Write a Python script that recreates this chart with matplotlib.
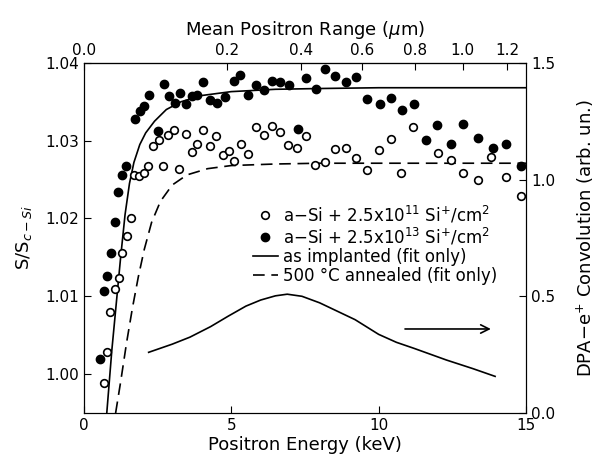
import numpy as np
import matplotlib
matplotlib.use("Agg")
import matplotlib.pyplot as plt

plt.rcParams['font.family'] = ['DejaVu Sans']
plt.rcParams['mathtext.fontset'] = 'dejavusans'

# open circles: a-Si + 2.5x10^11
e_low = [0.69, 0.80, 0.90, 1.05, 1.19, 1.31, 1.46, 1.59, 1.72, 1.87, 2.03, 2.19, 2.36, 2.54,
         2.69, 2.87, 3.07, 3.24, 3.45, 3.66, 3.85, 4.05, 4.28, 4.49, 4.73, 4.93, 5.10, 5.32,
         5.57, 5.84, 6.10, 6.37, 6.64, 6.94, 7.23, 7.52, 7.85, 8.18, 8.53, 8.89, 9.24, 9.60,
         10.02, 10.41, 10.77, 11.16, 12.01, 12.44, 12.87, 13.36, 13.80, 14.32, 14.82]
s_low = [0.9988, 1.0028, 1.0080, 1.0109, 1.0124, 1.0155, 1.0178, 1.0201, 1.0256, 1.0255,
         1.0259, 1.0267, 1.0293, 1.0301, 1.0268, 1.0307, 1.0314, 1.0263, 1.0308, 1.0285,
         1.0296, 1.0314, 1.0293, 1.0306, 1.0282, 1.0287, 1.0274, 1.0296, 1.0283, 1.0317,
         1.0307, 1.0319, 1.0311, 1.0294, 1.0290, 1.0306, 1.0269, 1.0272, 1.0289, 1.0290,
         1.0278, 1.0262, 1.0288, 1.0302, 1.0258, 1.0318, 1.0284, 1.0275, 1.0258, 1.0249,
         1.0279, 1.0253, 1.0229]

# filled circles: a-Si + 2.5x10^13
e_high = [0.56, 0.69, 0.80, 0.91, 1.05, 1.16, 1.29, 1.43, 1.73, 1.91, 2.05, 2.21, 2.52, 2.71,
          2.89, 3.09, 3.26, 3.46, 3.67, 3.85, 4.06, 4.29, 4.51, 4.80, 5.08, 5.31, 5.57, 5.84,
          6.12, 6.37, 6.64, 6.96, 7.25, 7.53, 7.88, 8.18, 8.53, 8.89, 9.24, 9.62, 10.05, 10.41,
          10.79, 11.19, 11.60, 11.99, 12.46, 12.87, 13.38, 13.88, 14.32, 14.82]
s_high = [1.0020, 1.0107, 1.0126, 1.0155, 1.0195, 1.0234, 1.0256, 1.0267, 1.0328, 1.0338,
          1.0345, 1.0359, 1.0312, 1.0373, 1.0358, 1.0349, 1.0361, 1.0347, 1.0358, 1.0359,
          1.0375, 1.0352, 1.0348, 1.0356, 1.0377, 1.0385, 1.0359, 1.0371, 1.0365, 1.0377,
          1.0375, 1.0372, 1.0315, 1.0381, 1.0366, 1.0392, 1.0383, 1.0375, 1.0382, 1.0353,
          1.0347, 1.0355, 1.0340, 1.0347, 1.0301, 1.0320, 1.0296, 1.0322, 1.0304, 1.0290,
          1.0296, 1.0268]

# fits
e_fit_impl = [0.78, 0.95, 1.10, 1.25, 1.40, 1.55, 1.70, 1.90, 2.10, 2.40, 2.80, 3.30, 4.0, 5.0,
              6.5, 8.0, 10.0, 12.0, 15.0]
s_fit_impl = [0.995, 1.0030, 1.0090, 1.0150, 1.0205, 1.0245, 1.0272, 1.0295, 1.0310, 1.0325,
              1.0340, 1.0350, 1.0358, 1.0363, 1.0366, 1.0367, 1.0368, 1.0368, 1.0368]
e_fit_ann = [1.08, 1.25, 1.45, 1.65, 1.85, 2.05, 2.30, 2.60, 3.0, 3.5, 4.2, 5.0, 6.5, 8.0, 10.0,
             12.0, 15.0]
s_fit_ann = [0.995, 0.9990, 1.0040, 1.0085, 1.0125, 1.0160, 1.0195, 1.0222, 1.0243, 1.0256,
             1.0264, 1.0268, 1.0270, 1.0271, 1.0271, 1.0271, 1.0271]

# DPA-e+ convolution (right axis)
e_dpa = [2.2, 3.0, 3.6, 4.3, 4.9, 5.5, 6.0, 6.5, 6.9, 7.4, 8.0, 8.7, 9.2, 10.0, 10.6, 11.2,
         12.3, 13.2, 13.95]
v_dpa = [0.26, 0.295, 0.325, 0.37, 0.415, 0.458, 0.484, 0.502, 0.509, 0.500, 0.472, 0.43,
         0.40, 0.337, 0.303, 0.277, 0.227, 0.19, 0.157]

range_ticks = [0.0, 0.2, 0.4, 0.6, 0.8, 1.0, 1.2]

fig = plt.figure(figsize=(6.16, 4.62), dpi=100)
ax = fig.add_axes([0.136, 0.106, 0.718, 0.758])

ax.plot(e_fit_impl, s_fit_impl, color='black', lw=1.2, label='as implanted (fit only)')
ax.plot(e_fit_ann, s_fit_ann, color='black', lw=1.2, linestyle=(0, (7, 4)),
        label='500 \u00b0C annealed (fit only)')
ax.plot(e_low, s_low, 'o', ms=5.5, mfc='white', mec='black', mew=1.2,
        label='a\u2212Si + 2.5x10$^{11}$ Si$^{+}$/cm$^{2}$')
ax.plot(e_high, s_high, 'o', ms=6, mfc='black', mec='black',
        label='a\u2212Si + 2.5x10$^{13}$ Si$^{+}$/cm$^{2}$')

ax.set_xlim(0, 15)
ax.set_ylim(0.995, 1.04)
ax.set_xticks([0, 5, 10, 15])
ax.set_yticks([1.00, 1.01, 1.02, 1.03, 1.04])
ax.set_yticklabels(['1.00', '1.01', '1.02', '1.03', '1.04'])
ax.tick_params(direction='in', length=5, labelsize=11)
ax.set_xlabel('Positron Energy (keV)', fontsize=13, labelpad=2)
ax.set_ylabel('S/S$_{c\u2212Si}$', fontsize=13, labelpad=8)

h, l = ax.get_legend_handles_labels()
order = [2, 3, 0, 1]
ax.legend([h[i] for i in order], [l[i] for i in order], loc='upper left',
          bbox_to_anchor=(0.36, 0.625), frameon=False, fontsize=12, handlelength=1.5,
          handletextpad=0.3, labelspacing=0.05, borderpad=0.1)

ax2 = ax.twinx()
ax2.plot(e_dpa, v_dpa, color='black', lw=1.2)
ax2.set_ylim(0, 1.5)
ax2.set_yticks([0.0, 0.5, 1.0, 1.5])
ax2.tick_params(direction='in', length=5, labelsize=11)
ax2.set_ylabel('DPA\u2212e$^{+}$ Convolution (arb. un.)', fontsize=13, labelpad=14)
ax2.annotate('', xy=(13.9, 0.36), xytext=(10.8, 0.36),
             arrowprops=dict(arrowstyle='->', color='black', lw=1.2, mutation_scale=15))


def e_to_range(e):
    e = np.clip(np.asarray(e, dtype=float), 0, None)
    return 0.0148 * e ** 1.65


def range_to_e(z):
    z = np.clip(np.asarray(z, dtype=float), 0, None)
    return (z / 0.0148) ** (1 / 1.65)


top = ax.secondary_xaxis('top', functions=(e_to_range, range_to_e))
top.set_xticks(range_ticks)
top.set_xticklabels(['%.1f' % t for t in range_ticks])
top.tick_params(direction='in', length=5, labelsize=11)
top.set_xlabel('Mean Positron Range ($\\mu$m)', fontsize=13, labelpad=6)

fig.savefig('out.png', dpi=100)
